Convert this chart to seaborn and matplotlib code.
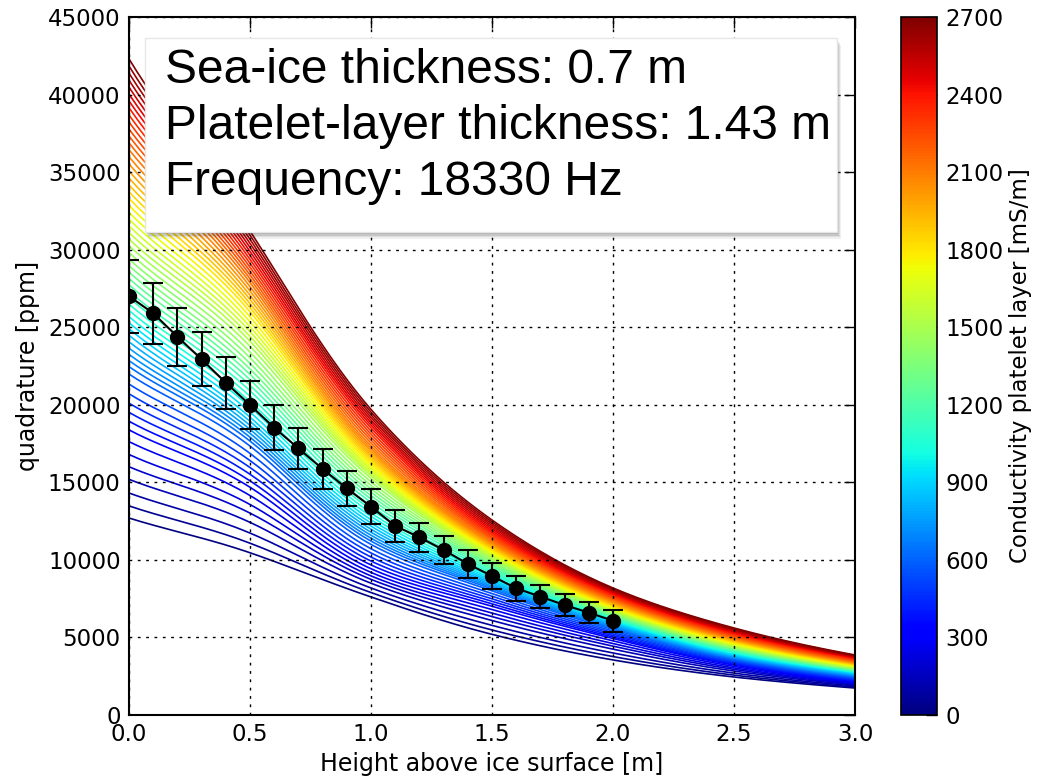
import numpy as np
import pandas as pd
import matplotlib
matplotlib.use("Agg")
import matplotlib.pyplot as plt
import seaborn as sns
from matplotlib.patches import Rectangle
from matplotlib.colors import Normalize
from matplotlib.cm import ScalarMappable

# ---- data ----
height_read = [0.0, 0.5, 1.0, 1.5, 2.0, 2.5, 3.0]
cond_anchor = [0, 150, 300, 600, 900, 1200, 1500, 1800, 2100, 2400, 2700]
# modelled quadrature [ppm] at each anchor conductivity (rows) and height (cols)
q_c0 = [12700, 10460, 7610, 5200, 3550, 2450, 1740]
q_c150 = [15500, 12660, 8600, 6200, 4330, 2880, 1960]
q_c300 = [18200, 14550, 9350, 6960, 4900, 3200, 2130]
q_c600 = [22200, 17500, 11090, 8060, 5550, 3600, 2450]
q_c900 = [24900, 19200, 12380, 8700, 6000, 3900, 2710]
q_c1200 = [27600, 21500, 13860, 9480, 6350, 4180, 2880]
q_c1500 = [30400, 23900, 15340, 10120, 6680, 4420, 3030]
q_c1800 = [33300, 26000, 16310, 10640, 7000, 4680, 3220]
q_c2100 = [36300, 27800, 17280, 11150, 7380, 4960, 3420]
q_c2400 = [39300, 29460, 18570, 11800, 7800, 5290, 3670]
q_c2700 = [42300, 31200, 19700, 12570, 8190, 5610, 3870]
cond_step = 45

meas_height = [0.0, 0.1, 0.2, 0.3, 0.4, 0.5, 0.6, 0.7, 0.8, 0.9, 1.0,
               1.1, 1.2, 1.3, 1.4, 1.5, 1.6, 1.7, 1.8, 1.9, 2.0]
meas_quad = [27000, 25900, 24390, 22930, 21420, 19990, 18520, 17190, 15860, 14610, 13430,
             12190, 11460, 10640, 9740, 8960, 8170, 7630, 7090, 6600, 6080]
meas_err = [2350, 1970, 1880, 1750, 1665, 1555, 1455, 1340, 1270, 1150, 1120,
            1040, 945, 930, 915, 855, 795, 750, 720, 695, 720]

x_ticks = [0.0, 0.5, 1.0, 1.5, 2.0, 2.5, 3.0]
y_ticks = [0, 5000, 10000, 15000, 20000, 25000, 30000, 35000, 40000, 45000]
cbar_ticks = [0, 300, 600, 900, 1200, 1500, 1800, 2100, 2400, 2700]
info_lines = ["Sea-ice thickness: 0.7 m", "Platelet-layer thickness: 1.43 m", "Frequency: 18330 Hz"]


def catmull_rom(xs, ys, xf):
    xs = np.asarray(xs, float)
    ys = np.asarray(ys, float)
    h = xs[1] - xs[0]
    P = np.concatenate([[2 * ys[0] - ys[1]], ys, [2 * ys[-1] - ys[-2]]])
    out = []
    for x in xf:
        i = min(int((x - xs[0]) / h), len(xs) - 2)
        t = (x - xs[i]) / h
        p0, p1, p2, p3 = P[i], P[i + 1], P[i + 2], P[i + 3]
        out.append(0.5 * (2 * p1 + (-p0 + p2) * t + (2 * p0 - 5 * p1 + 4 * p2 - p3) * t ** 2
                          + (-p0 + 3 * p1 - 3 * p2 + p3) * t ** 3))
    return np.array(out)


anchors = [q_c0, q_c150, q_c300, q_c600, q_c900, q_c1200, q_c1500, q_c1800, q_c2100,
           q_c2400, q_c2700]
h_fine = np.linspace(0, 3, 181)
logs = np.array([catmull_rom(height_read, np.log(a), h_fine) for a in anchors])
conds = np.arange(0, 2701, cond_step)
rows = []
for c in conds:
    for j, h in enumerate(h_fine):
        rows.append((c, h, float(np.exp(np.interp(c, cond_anchor, logs[:, j])))))
df = pd.DataFrame(rows, columns=["cond", "height", "quad"])

# ---- figure ----
sns.set_style("white")
plt.rcParams['font.family'] = ['DejaVu Sans']
plt.rcParams['text.color'] = 'black'
plt.rcParams['axes.labelcolor'] = 'black'
plt.rcParams['xtick.color'] = 'black'
plt.rcParams['ytick.color'] = 'black'
fig = plt.figure(figsize=(10.37, 7.76), dpi=100)
ax = fig.add_axes([0.1244, 0.0786, 0.7001, 0.8995])
cax = fig.add_axes([0.869, 0.0786, 0.0347, 0.8995])

jet = matplotlib.colormaps['jet']
sns.lineplot(data=df, x="height", y="quad", hue="cond", units="cond", estimator=None,
             palette=jet, hue_norm=(0, 2700), legend=False, linewidth=1.2, sort=False, ax=ax)

ax.errorbar(meas_height, meas_quad, yerr=meas_err, fmt='o-', color='k', ms=10,
            lw=1.5, elinewidth=1.5, capsize=7, capthick=1.5, zorder=5)

ax.set_xlim(0, 3)
ax.set_ylim(0, 45000)
ax.set_xticks(x_ticks)
ax.set_xticklabels([f"{v:.1f}" for v in x_ticks])
ax.set_yticks(y_ticks)
ax.set_yticklabels([str(v) for v in y_ticks])
ax.tick_params(direction='in', top=True, right=True, length=8, width=1, labelsize=16.5,
               colors='k', pad=6)
for s in ax.spines.values():
    s.set_color('k')
    s.set_linewidth(1.5)
ax.grid(True, color='k', linestyle=(0, (2, 4)), linewidth=1)
ax.set_axisbelow(False)
ax.set_xlabel("Height above ice surface [m]", fontsize=17, labelpad=4, color='k')
ax.set_ylabel("quadrature [ppm]", fontsize=17, labelpad=6, color='k')

# info box with soft shadow
bx0, by0, bx1, by1 = 0.022, 0.692, 0.975, 0.970
for k, a in enumerate([0.06, 0.08, 0.10, 0.12]):
    off = 0.010 - k * 0.0022
    ax.add_patch(Rectangle((bx0 + off * 0.6, by0 - off), bx1 - bx0, by1 - by0,
                           transform=ax.transAxes, facecolor='k', alpha=a,
                           edgecolor='none', zorder=8))
ax.add_patch(Rectangle((bx0, by0), bx1 - bx0, by1 - by0, transform=ax.transAxes,
                       facecolor='white', edgecolor='#e6e6e6', lw=1, zorder=9))
ax.text(0.049, 0.843, "\n".join(info_lines), transform=ax.transAxes,
        ha='left', va='center', fontsize=34.5, family=['Liberation Sans', 'DejaVu Sans'],
        linespacing=1.31, color='black', zorder=10)

# colorbar
sm = ScalarMappable(norm=Normalize(0, 2700), cmap=jet)
cb = fig.colorbar(sm, cax=cax, ticks=cbar_ticks)
cb.outline.set_edgecolor('k')
cb.outline.set_linewidth(1.2)
cax.tick_params(direction='in', length=8, width=1, labelsize=16.5, colors='k', pad=6)
cb.set_label("Conductivity platelet layer [mS/m]", fontsize=16.5, labelpad=4, color='k')

fig.savefig("out.png", dpi=100)
